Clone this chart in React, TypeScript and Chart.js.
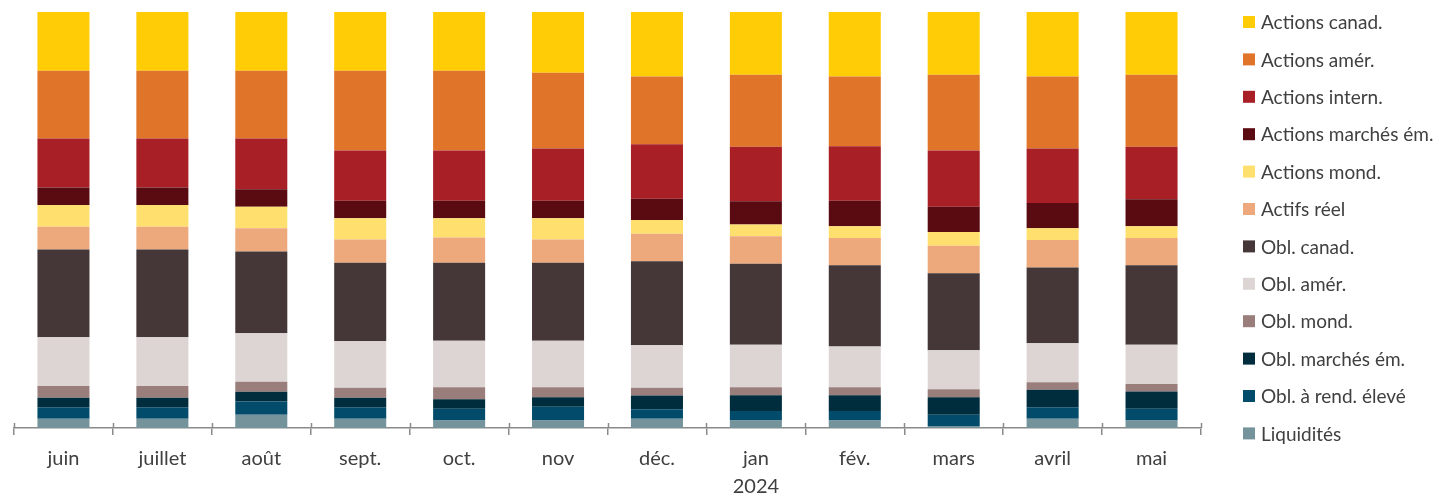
import React, { useEffect, useRef } from "react";
import { Chart, registerables } from "chart.js";

Chart.register(...registerables);

const months = ["juin", "juillet", "août", "sept.", "oct.", "nov", "déc.", "jan", "fév.", "mars", "avril", "mai"];
const yearLabels = ["", "", "", "", "", "", "", "2024", "", "", "", ""];

// values in % of portfolio, one array per asset class
const actionsCanad = [14.1, 14.1, 14.1, 14.1, 14.1, 14.6, 15.5, 15.1, 15.5, 15.1, 15.5, 15.1];
const actionsAmer = [16.3, 16.3, 16.3, 19.2, 19.2, 18.2, 16.3, 17.3, 16.8, 18.2, 17.3, 17.3];
const actionsIntern = [11.8, 11.8, 12.2, 12.1, 12.1, 12.6, 13.1, 13.1, 13.1, 13.5, 13.1, 12.6];
const actionsME = [4.2, 4.2, 4.2, 4.2, 4.2, 4.2, 5.1, 5.6, 6.1, 6.1, 6.1, 6.5];
const actionsMond = [5.2, 5.2, 5.2, 5.1, 4.6, 5.1, 3.3, 2.8, 2.8, 3.3, 2.8, 2.8];
const actifsReel = [5.5, 5.5, 5.6, 5.6, 6.1, 5.6, 6.6, 6.6, 6.6, 6.6, 6.6, 6.6];
const oblCanad = [21.1, 21.1, 19.6, 18.8, 18.7, 18.7, 20.2, 19.5, 19.5, 18.5, 18.2, 19.1];
const oblAmer = [11.7, 11.7, 11.7, 11.2, 11.2, 11.2, 10.2, 10.2, 9.8, 9.4, 9.4, 9.4];
const oblMond = [2.8, 2.8, 2.4, 2.4, 2.9, 2.4, 1.9, 1.9, 1.9, 1.9, 1.8, 1.8];
const oblME = [2.3, 2.3, 2.3, 2.3, 2.3, 2.3, 3.3, 3.8, 3.8, 4.2, 4.2, 4.2];
const oblRendEleve = [2.8, 2.8, 3.2, 2.8, 2.8, 3.3, 2.3, 2.3, 2.3, 2.7, 2.8, 2.8];
const liquidites = [2.2, 2.2, 3.2, 2.2, 1.8, 1.8, 2.2, 1.8, 1.8, 0.5, 2.2, 1.8];

const seriesNames = [
  "Liquidités",
  "Obl. à rend. élevé",
  "Obl. marchés ém.",
  "Obl. mond.",
  "Obl. amér.",
  "Obl. canad.",
  "Actifs réel",
  "Actions mond.",
  "Actions marchés ém.",
  "Actions intern.",
  "Actions amér.",
  "Actions canad.",
];
const seriesValues = [
  liquidites,
  oblRendEleve,
  oblME,
  oblMond,
  oblAmer,
  oblCanad,
  actifsReel,
  actionsMond,
  actionsME,
  actionsIntern,
  actionsAmer,
  actionsCanad,
];
const seriesColors = [
  "#75939A",
  "#034B6B",
  "#002D3D",
  "#9A7E7C",
  "#DDD5D4",
  "#453637",
  "#EDA97B",
  "#FFE06E",
  "#5A0B12",
  "#A81F25",
  "#E07428",
  "#FFCC05",
];

const FONT = "Lato, 'Open Sans', sans-serif";
const TEXT = "#404040";
const AXIS = "#8a8a8a";

const tickUpPlugin = {
  id: "tickUp",
  afterDraw(chart: any) {
    const x = chart.scales.x;
    const ctx = chart.ctx;
    const n = chart.data.labels.length;
    const step = x.getPixelForTick(1) - x.getPixelForTick(0);
    ctx.save();
    ctx.strokeStyle = AXIS;
    ctx.lineWidth = 1.5;
    for (let i = 0; i <= n; i++) {
      const px = Math.round(x.getPixelForTick(0) - step / 2 + i * step) + 0.5;
      ctx.beginPath();
      ctx.moveTo(px, x.top - 5);
      ctx.lineTo(px, x.top);
      ctx.stroke();
    }
    ctx.restore();
  },
};

const legendPlugin = {
  id: "sideLegend",
  afterDraw(chart: any) {
    const ctx = chart.ctx;
    const ds = chart.data.datasets;
    ctx.save();
    ctx.font = `19px ${FONT}`;
    ctx.textBaseline = "middle";
    ctx.textAlign = "left";
    const n = ds.length;
    for (let k = 0; k < n; k++) {
      const d = ds[n - 1 - k];
      const cy = 22 + k * 37.4;
      ctx.fillStyle = d.backgroundColor;
      ctx.fillRect(1243, cy - 6, 12, 12);
      ctx.fillStyle = TEXT;
      ctx.fillText(d.label, 1261, cy + 1);
    }
    ctx.restore();
  },
};

export default function App() {
  const ref = useRef<HTMLCanvasElement>(null);
  useEffect(() => {
    document.body.style.margin = "0";
    const labels = months.map((m, i) => (yearLabels[i] ? [m, yearLabels[i]] : m));
    const chart = new Chart(ref.current!, {
      type: "bar",
      data: {
        labels,
        datasets: seriesNames.map((name, i) => ({
          label: name,
          data: seriesValues[i],
          backgroundColor: seriesColors[i],
          borderWidth: 0,
          barPercentage: 1,
          categoryPercentage: 0.526,
        })),
      },
      options: {
        animation: false,
        responsive: true,
        maintainAspectRatio: false,
        layout: { padding: { left: 14, right: 249, top: 12, bottom: 0 } },
        plugins: { legend: { display: false }, tooltip: { enabled: false } },
        scales: {
          x: {
            stacked: true,
            offset: true,
            grid: {
              display: true,
              offset: true,
              drawOnChartArea: false,
              drawTicks: true,
              tickLength: 7,
              color: AXIS,
              lineWidth: 1.5,
            },
            border: { display: true, color: AXIS, width: 1.5 },
            ticks: {
              color: TEXT,
              font: { family: FONT, size: 20, lineHeight: 1.4 },
              padding: 10,
              maxRotation: 0,
              autoSkip: false,
            },
            afterFit(scale: any) {
              scale.height = 66;
            },
          },
          y: {
            stacked: true,
            display: false,
            min: 0,
            max: 100,
          },
        },
      },
      plugins: [tickUpPlugin, legendPlugin],
    });
    return () => chart.destroy();
  }, []);
  return (
    <div style={{ position: "fixed", left: 0, top: 0, width: 1450, height: 494 }}>
      <canvas ref={ref} />
    </div>
  );
}
